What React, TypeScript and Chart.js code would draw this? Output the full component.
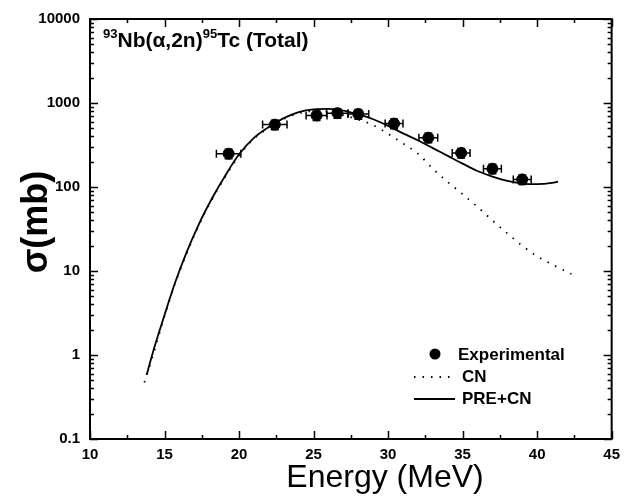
import React, { useEffect, useRef } from "react";
import { Chart, registerables } from "chart.js";

Chart.register(...registerables);

// Experimental data
const expEnergy = [19.3, 22.4, 25.2, 26.6, 28.0, 30.4, 32.7, 34.9, 37.0, 39.0];
const expSigma = [249, 553, 711, 757, 738, 569, 386, 254, 165, 123];
const expEnergyErr = [0.82, 0.82, 0.7, 0.72, 0.7, 0.6, 0.63, 0.6, 0.6, 0.6];
const expSigmaErr = [32, 72, 92, 98, 96, 74, 50, 33, 21, 16];

// CN (dotted) curve
const cnEnergy = [13.65, 14.3, 15, 15.7, 16.5, 17.3, 18.2, 19, 20, 21, 22, 23, 24, 25, 26, 27, 28, 29, 30, 31, 32, 33, 34, 35, 36, 37, 38, 39, 40, 41, 42.3];
const cnSigma = [0.47, 1.1, 2.9, 7.0, 16.5, 35, 72, 126, 235, 375, 505, 645, 755, 800, 780, 715, 635, 545, 430, 330, 250, 165, 115, 82, 58, 40, 28, 20, 15, 12, 9.2];

// PRE+CN (solid) curve
const preEnergy = [13.8, 14.3, 15, 15.7, 16.5, 17.3, 18.2, 19, 20, 21, 22, 23, 24, 25, 26, 27, 28, 29, 30, 31, 32, 33, 34, 35, 36, 37, 38, 39, 40, 41, 41.4];
const preSigma = [0.58, 1.2, 3.0, 7.2, 17, 36, 74, 130, 245, 385, 519, 660, 780, 840, 850, 810, 730, 640, 535, 435, 360, 290, 235, 190, 155, 133, 118, 110, 108, 112, 116];

const xTickValues = [10, 15, 20, 25, 30, 35, 40, 45];
const yTickValues = [0.1, 1, 10, 100, 1000, 10000];
const yTickLabels = ["0.1", "1", "10", "100", "1000", "10000"];

const FONT = "'Liberation Sans', Arial, sans-serif";

const decorPlugin = {
  id: "decor",
  beforeDatasetsDraw(chart: any) {
    const { ctx, scales } = chart;
    const x = scales.x, y = scales.y;
    ctx.save();
    ctx.strokeStyle = "#000";
    ctx.lineWidth = 1.5;
    for (let i = 0; i < expEnergy.length; i++) {
      const px = x.getPixelForValue(expEnergy[i]);
      const py = y.getPixelForValue(expSigma[i]);
      const x1 = x.getPixelForValue(expEnergy[i] - expEnergyErr[i]);
      const x2 = x.getPixelForValue(expEnergy[i] + expEnergyErr[i]);
      const y1 = y.getPixelForValue(expSigma[i] - expSigmaErr[i]);
      const y2 = y.getPixelForValue(expSigma[i] + expSigmaErr[i]);
      ctx.beginPath();
      ctx.moveTo(x1, py); ctx.lineTo(x2, py);
      ctx.moveTo(x1, py - 4); ctx.lineTo(x1, py + 4);
      ctx.moveTo(x2, py - 4); ctx.lineTo(x2, py + 4);
      ctx.moveTo(px, y1); ctx.lineTo(px, y2);
      ctx.moveTo(px - 4, y1); ctx.lineTo(px + 4, y1);
      ctx.moveTo(px - 4, y2); ctx.lineTo(px + 4, y2);
      ctx.stroke();
    }
    ctx.restore();
  },
  afterDraw(chart: any) {
    const { ctx, chartArea, scales } = chart;
    const { left, right, top, bottom } = chartArea;
    const x = scales.x, y = scales.y;
    ctx.save();
    ctx.strokeStyle = "#000";
    ctx.lineWidth = 2;
    ctx.strokeRect(left, top, right - left, bottom - top);
    ctx.lineWidth = 1.5;
    ctx.beginPath();
    // x ticks
    for (let v = 10; v <= 45.001; v += 2.5) {
      const px = Math.round(x.getPixelForValue(v)) + 0.5;
      const len = Math.abs(v % 5) < 0.01 ? 8 : 4;
      ctx.moveTo(px, bottom); ctx.lineTo(px, bottom - len);
      ctx.moveTo(px, top); ctx.lineTo(px, top + len);
    }
    // y ticks
    for (let d = 0; d < yTickValues.length; d++) {
      const base = yTickValues[d];
      for (let k = 1; k <= 9; k++) {
        if (d === yTickValues.length - 1 && k > 1) break;
        const v = base * k;
        const py = Math.round(y.getPixelForValue(v)) + 0.5;
        const len = k === 1 ? 8 : 4;
        ctx.moveTo(left, py); ctx.lineTo(left + len, py);
        ctx.moveTo(right, py); ctx.lineTo(right - len, py);
      }
    }
    ctx.stroke();

    // Axis titles
    ctx.fillStyle = "#000";
    ctx.textAlign = "center";
    ctx.textBaseline = "middle";
    ctx.font = `32px ${FONT}`;
    ctx.fillText("Energy (MeV)", 385, 478);
    ctx.save();
    ctx.translate(37, 222);
    ctx.rotate(-Math.PI / 2);
    ctx.font = `bold 36px ${FONT}`;
    ctx.fillText("σ(mb)", 0, 0);
    ctx.restore();

    // Reaction label
    ctx.textAlign = "left";
    ctx.textBaseline = "alphabetic";
    let cx = 103;
    const base = 47;
    const parts: [string, boolean][] = [["93", true], ["Nb(α,2n)", false], ["95", true], ["Tc (Total)", false]];
    for (const [t, sup] of parts) {
      ctx.font = sup ? `bold 13px ${FONT}` : `bold 21px ${FONT}`;
      ctx.fillText(t, cx, sup ? base - 9 : base);
      cx += ctx.measureText(t).width;
    }

    // Legend
    ctx.font = `bold 17px ${FONT}`;
    ctx.textBaseline = "middle";
    ctx.beginPath();
    ctx.arc(435, 354, 5.5, 0, Math.PI * 2);
    ctx.fill();
    ctx.fillText("Experimental", 458, 355);
    ctx.fillText("CN", 462, 377);
    ctx.fillText("PRE+CN", 462, 399);
    ctx.lineWidth = 1.8;
    ctx.setLineDash([1.5, 7]);
    ctx.beginPath();
    ctx.moveTo(414, 377); ctx.lineTo(454, 377);
    ctx.stroke();
    ctx.setLineDash([]);
    ctx.beginPath();
    ctx.moveTo(414, 399); ctx.lineTo(455, 399);
    ctx.stroke();
    ctx.restore();
  },
};

export default function App() {
  const ref = useRef<HTMLCanvasElement | null>(null);
  useEffect(() => {
    if (!ref.current) return;
    const chart = new Chart(ref.current, {
      type: "scatter",
      data: {
        datasets: [
          {
            label: "PRE+CN",
            data: preEnergy.map((e, i) => ({ x: e, y: preSigma[i] })),
            showLine: true,
            borderColor: "#000",
            borderWidth: 1.8,
            pointRadius: 0,
            cubicInterpolationMode: "monotone",
          },
          {
            label: "CN",
            data: cnEnergy.map((e, i) => ({ x: e, y: cnSigma[i] })),
            showLine: true,
            borderColor: "#000",
            borderWidth: 1.8,
            borderDash: [1.5, 7],
            pointRadius: 0,
            cubicInterpolationMode: "monotone",
          },
          {
            label: "Experimental",
            data: expEnergy.map((e, i) => ({ x: e, y: expSigma[i] })),
            backgroundColor: "#000",
            borderColor: "#000",
            pointRadius: 5.5,
            pointHoverRadius: 5.5,
          },
        ],
      } as any,
      options: {
        animation: false,
        responsive: false,
        devicePixelRatio: 1,
        layout: { padding: { left: 0, right: 8, top: 12, bottom: 0 } },
        plugins: { legend: { display: false }, tooltip: { enabled: false } },
        scales: {
          x: {
            type: "linear",
            min: 10,
            max: 45,
            afterBuildTicks: (axis: any) => {
              axis.ticks = xTickValues.map((v) => ({ value: v }));
            },
            afterFit: (axis: any) => {
              axis.height = 60;
            },
            grid: { display: false, drawTicks: false },
            border: { display: false },
            ticks: {
              padding: 7,
              color: "#000",
              font: { family: FONT, size: 15, weight: "bold" },
              maxRotation: 0,
              callback: (v: any) => String(v),
            },
          },
          y: {
            type: "logarithmic",
            min: 0.1,
            max: 10000,
            afterBuildTicks: (axis: any) => {
              axis.ticks = yTickValues.map((v) => ({ value: v }));
            },
            afterFit: (axis: any) => {
              axis.width = 90;
            },
            grid: { display: false, drawTicks: false },
            border: { display: false },
            ticks: {
              padding: 10,
              color: "#000",
              font: { family: FONT, size: 15, weight: "bold" },
              callback: (v: any) => {
                const i = yTickValues.findIndex((t) => Math.abs(t - v) / t < 1e-6);
                return i >= 0 ? yTickLabels[i] : "";
              },
            },
          },
        },
      } as any,
      plugins: [decorPlugin],
    });
    return () => chart.destroy();
  }, []);
  return (
    <div style={{ position: "absolute", left: 0, top: 0, width: 627, height: 499, background: "#fff" }}>
      <canvas ref={ref} width={627} height={499} style={{ display: "block" }} />
    </div>
  );
}
